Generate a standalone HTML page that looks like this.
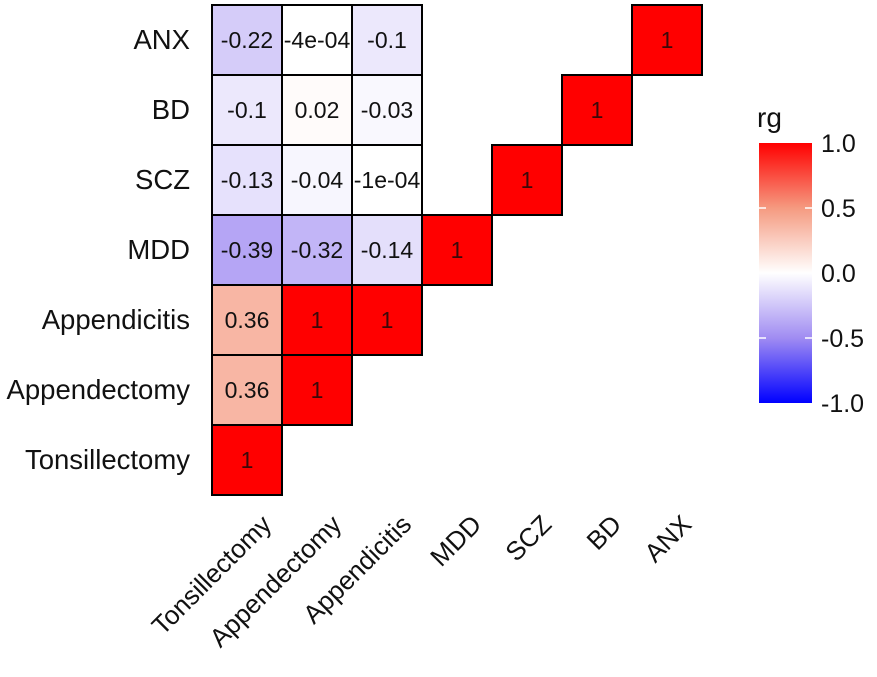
<!DOCTYPE html>
<html><head><meta charset="utf-8"><style>
body{margin:0;background:#fff;}
svg{display:block;font-family:"Liberation Sans",Arial,sans-serif;}
</style></head><body>
<svg id="chart" width="877" height="677" viewBox="0 0 877 677">
<defs>
<linearGradient id="cbar" x1="0" y1="1" x2="0" y2="0">
<stop offset="0" stop-color="#0000ff"/>
<stop offset="0.25" stop-color="#a08cf2"/>
<stop offset="0.5" stop-color="#ffffff"/>
<stop offset="0.75" stop-color="#f59a80"/>
<stop offset="1" stop-color="#ff0000"/>
</linearGradient>
</defs>
<g id="cells"></g>
<g id="ylabels"></g>
<g id="xlabels"></g>
<g id="legend">
<text x="757" y="127" font-size="28" fill="#111">rg</text>
<rect x="759" y="143" width="53" height="260" fill="url(#cbar)"/>
<g id="legticks"></g>
</g>
</svg>
<script>
const vars = ["Tonsillectomy","Appendectomy","Appendicitis","MDD","SCZ","BD","ANX"];
const rowTonsillectomy = [1];
const rowAppendectomy = [0.36, 1];
const rowAppendicitis = [0.36, 1, 1];
const rowMDD = [-0.39, -0.32, -0.14, 1];
const rowSCZ = [-0.13, -0.04, -0.0001, null, 1];
const rowBD = [-0.1, 0.02, -0.03, null, null, 1];
const rowANX = [-0.22, -0.0004, -0.1, null, null, null, 1];
const labelsSCZ = ["-0.13","-0.04","-1e-04",null,"1"];
const labelsANX = ["-0.22","-4e-04","-0.1",null,null,null,"1"];
const legendTicks = [1.0, 0.5, 0.0, -0.5, -1.0];

const rows = [rowTonsillectomy,rowAppendectomy,rowAppendicitis,rowMDD,rowSCZ,rowBD,rowANX];
const ns = "http://www.w3.org/2000/svg";
const gridLeft = 212, gridTop = 5, cell = 70, nVars = vars.length;
function xPos(j){return gridLeft + j*cell;}
function yPos(i){return gridTop + (nVars-1-i)*cell;}
function lerp(a,b,t){return a.map((v,k)=>Math.round(v+(b[k]-v)*t));}
function color(v){
  const stops = [[-1,[0,0,255]],[-0.5,[160,140,242]],[0,[255,255,255]],[0.5,[245,154,128]],[1,[255,0,0]]];
  for(let k=0;k<stops.length-1;k++){
    if(v<=stops[k+1][0]){const t=(v-stops[k][0])/(stops[k+1][0]-stops[k][0]);const c=lerp(stops[k][1],stops[k+1][1],t);return `rgb(${c[0]},${c[1]},${c[2]})`;}
  }
  return "rgb(255,0,0)";
}
const cg = document.getElementById("cells");
rows.forEach((r,i)=>{
  r.forEach((v,j)=>{
    if(v===null) return;
    const g = document.createElementNS(ns,"g");
    
    
    const rc = document.createElementNS(ns,"rect");
    rc.setAttribute("x",xPos(j));rc.setAttribute("y",yPos(i));
    rc.setAttribute("width",cell);rc.setAttribute("height",cell);
    rc.setAttribute("fill",color(v));rc.setAttribute("stroke","#000");rc.setAttribute("stroke-width","2");
    g.appendChild(rc);
    let lab = String(v);
    if(i===4 && labelsSCZ[j]) lab = labelsSCZ[j];
    if(i===6 && labelsANX[j]) lab = labelsANX[j];
    const t = document.createElementNS(ns,"text");
    t.setAttribute("x",xPos(j)+cell/2);t.setAttribute("y",yPos(i)+cell/2+8);
    t.setAttribute("text-anchor","middle");t.setAttribute("font-size","23");
    t.setAttribute("fill", v===1 ? "#3a0a0a" : "#111");
    t.textContent = lab;
    g.appendChild(t);
    cg.appendChild(g);
  });
});
const yg = document.getElementById("ylabels");
vars.forEach((name,i)=>{
  const t = document.createElementNS(ns,"text");
  
  
  t.setAttribute("x",190);t.setAttribute("y",yPos(i)+cell/2+9);
  t.setAttribute("text-anchor","end");t.setAttribute("font-size","27.5");t.setAttribute("fill","#111");
  t.textContent = name; yg.appendChild(t);
});
const xg = document.getElementById("xlabels");
vars.forEach((name,j)=>{
  const t = document.createElementNS(ns,"text");
  
  
  const cx = xPos(j)+cell/2+26, cy = 526;
  t.setAttribute("x",cx);t.setAttribute("y",cy);
  t.setAttribute("text-anchor","end");t.setAttribute("font-size","26");t.setAttribute("fill","#111");
  t.setAttribute("transform",`rotate(-45 ${cx} ${cy})`);
  t.textContent = name; xg.appendChild(t);
});
const lg = document.getElementById("legticks");
legendTicks.forEach(v=>{
  const y = 143 + (1-v)/2*260;
  const t = document.createElementNS(ns,"text");
  
  
  t.setAttribute("x",821);t.setAttribute("y",y+9);t.setAttribute("font-size","25");t.setAttribute("fill","#111");
  t.textContent = v.toFixed(1); lg.appendChild(t);
  if(v!==1 && v!==-1){
    [[759,766],[805,812]].forEach(([a,b])=>{
      const l = document.createElementNS(ns,"line");
      
      
      l.setAttribute("x1",a);l.setAttribute("x2",b);l.setAttribute("y1",y);l.setAttribute("y2",y);
      l.setAttribute("stroke","#fff");l.setAttribute("stroke-width","1.5");lg.appendChild(l);
    });
  }
});
</script>
</body></html>
